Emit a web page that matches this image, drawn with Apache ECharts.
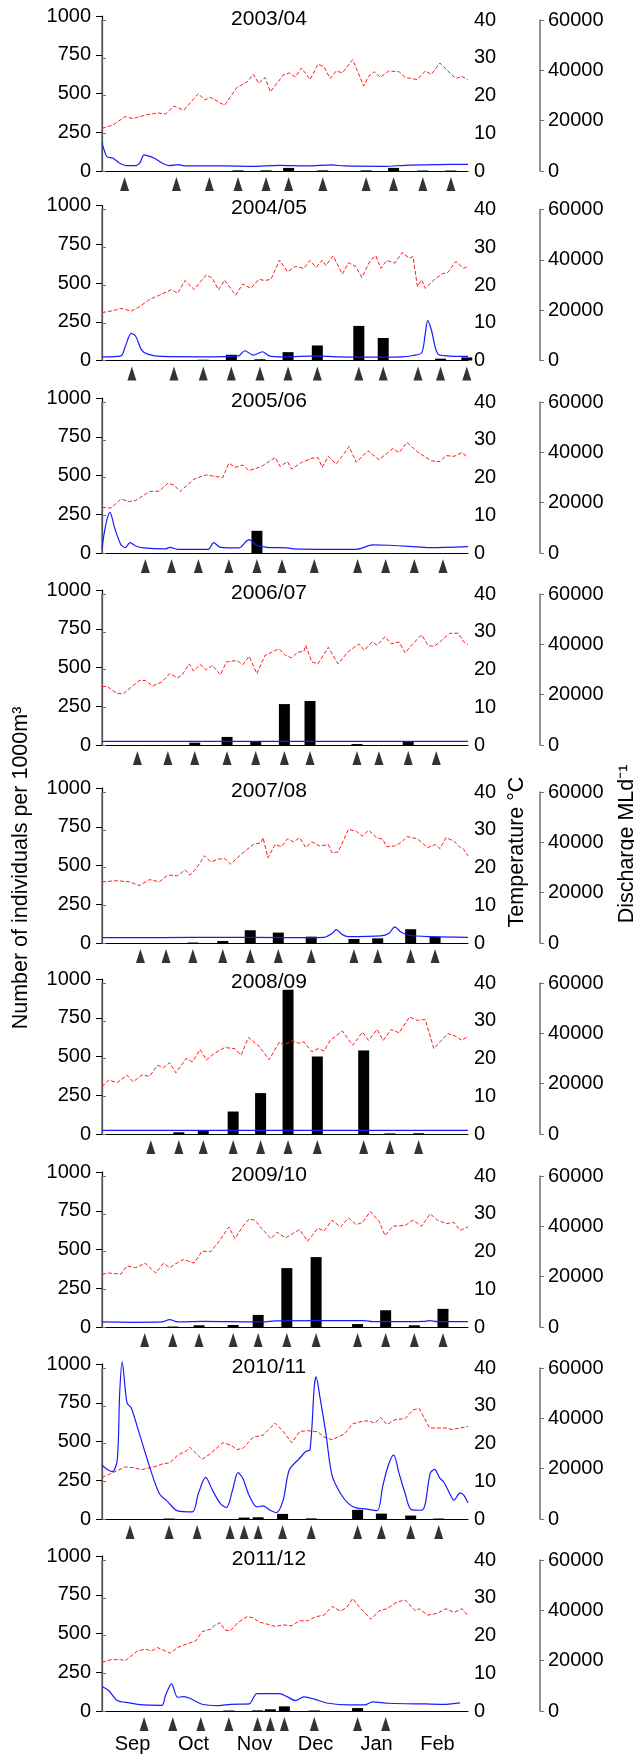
<!DOCTYPE html>
<html>
<head>
<meta charset="utf-8">
<script src="https://cdn.jsdelivr.net/npm/echarts@6/dist/echarts.min.js"></script>
<style>
  html, body { margin: 0; padding: 0; background: #fff; }
  #chart { width: 634px; height: 1756px; }
</style>
</head>
<body>
<div id="chart"></div>
<script>
// month categories on the x axis (values below are months after 1 Sep)
const months = ["Sep", "Oct", "Nov", "Dec", "Jan", "Feb"];
const leftTicks = [0, 250, 500, 750, 1000];

// sampling dates (triangles) and catches (bars, individuals per 1000 m3)
const samples0304 = [0.37, 1.22, 1.76, 2.23, 2.69, 3.06, 3.62, 4.33, 4.78, 5.26, 5.72];
const catch0304 = [0, 0, 0, 4, 4, 20, 4, 4, 20, 3, 3];
const samples0405 = [0.49, 1.18, 1.66, 2.12, 2.59, 3.05, 3.53, 4.21, 4.61, 5.18, 5.55, 5.98];
const catch0405 = [0, 0, 5, 37, 8, 54, 97, 223, 145, 0, 12, 20];
const samples0506 = [0.71, 1.14, 1.58, 2.08, 2.54, 2.95, 3.48, 4.19, 4.65, 5.12, 5.59];
const catch0506 = [0, 0, 0, 0, 143, 0, 0, 0, 0, 0, 0];
const samples0607 = [0.58, 1.08, 1.52, 2.05, 2.52, 2.99, 3.41, 4.18, 4.54, 5.02, 5.48];
const catch0607 = [0, 0, 15, 52, 26, 264, 284, 6, 0, 24, 0];
const samples0708 = [0.63, 1.05, 1.49, 1.98, 2.43, 2.89, 3.43, 4.13, 4.52, 5.06, 5.46];
const catch0708 = [0, 0, 3, 13, 82, 67, 41, 26, 30, 89, 41];
const samples0809 = [0.80, 1.26, 1.66, 2.15, 2.60, 3.05, 3.53, 4.29, 4.72, 5.19];
const catch0809 = [0, 11, 24, 145, 264, 931, 500, 539, 4, 5];
const samples0910 = [0.70, 1.16, 1.59, 2.15, 2.56, 3.03, 3.51, 4.19, 4.65, 5.12, 5.59];
const catch0910 = [0, 3, 11, 13, 78, 380, 451, 19, 108, 11, 117];
const samples1011 = [0.46, 1.10, 1.56, 2.10, 2.33, 2.56, 2.96, 3.43, 4.19, 4.58, 5.06, 5.52];
const catch1011 = [0, 3, 0, 0, 9, 11, 33, 4, 59, 35, 22, 3];
const samples1112 = [0.69, 1.16, 1.62, 2.08, 2.55, 2.76, 2.99, 3.48, 4.19, 4.65];
const catch1112 = [0, 0, 0, 3, 4, 11, 30, 3, 19, 0];

// water temperature, deg C  [month, value]
const temp0304 = [[0,11.3],[0.18,12.2],[0.38,14.4],[0.51,13.9],[0.71,14.8],[0.91,15.4],[1.04,15.1],[1.18,17.2],[1.34,16.1],[1.58,20.5],[1.68,18.8],[1.78,19.5],[2.01,17.4],[2.21,22.1],[2.38,23.6],[2.48,25.6],[2.57,23.2],[2.67,24.8],[2.76,21.0],[2.97,25.4],[3.07,26.0],[3.17,24.9],[3.27,27.3],[3.41,24.2],[3.54,28.3],[3.64,27.6],[3.74,24.5],[3.84,26.5],[3.94,26.0],[4.11,29.5],[4.29,22.5],[4.37,25.1],[4.47,26.3],[4.56,24.8],[4.70,26.5],[4.87,26.3],[4.97,24.8],[5.17,24.2],[5.30,26.5],[5.40,25.6],[5.54,28.6],[5.67,26.5],[5.80,24.5],[5.90,25.1],[6.00,24.1]];
const temp0405 = [[0,12.7],[0.18,13.2],[0.31,13.8],[0.48,13.1],[0.61,14.2],[0.78,16.2],[0.94,17.3],[1.14,18.8],[1.24,17.8],[1.36,21.2],[1.51,18.8],[1.71,22.7],[1.81,21.8],[1.91,18.7],[2.01,21.3],[2.19,17.3],[2.31,20.3],[2.44,19.1],[2.57,21.5],[2.67,21.2],[2.77,21.5],[2.91,26.6],[3.04,23.5],[3.17,24.9],[3.31,24.4],[3.41,26.5],[3.51,24.7],[3.61,26.6],[3.67,25.2],[3.79,27.7],[3.94,22.9],[4.04,25.9],[4.16,24.9],[4.26,22.0],[4.40,26.6],[4.49,27.7],[4.57,24.4],[4.67,26.5],[4.80,25.8],[4.92,28.6],[5.04,27.1],[5.10,27.5],[5.17,19.6],[5.24,21.3],[5.30,19.1],[5.44,21.3],[5.57,22.9],[5.67,23.3],[5.80,26.2],[5.93,24.4],[6.00,25.0]];
const temp0506 = [[0,12.1],[0.15,11.9],[0.31,14.3],[0.45,13.6],[0.55,13.9],[0.78,16.3],[0.94,16.4],[1.08,18.5],[1.18,18.0],[1.28,16.3],[1.51,19.6],[1.71,20.7],[1.84,20.3],[1.98,20.0],[2.08,23.8],[2.18,22.7],[2.31,23.3],[2.41,21.8],[2.61,22.9],[2.84,25.3],[2.92,22.9],[3.04,24.2],[3.11,22.2],[3.27,24.0],[3.44,25.1],[3.54,25.3],[3.61,22.7],[3.71,25.6],[3.84,23.6],[3.97,26.4],[4.05,28.2],[4.17,24.0],[4.36,27.1],[4.54,24.7],[4.77,27.7],[4.87,26.6],[5.00,29.3],[5.17,26.8],[5.40,24.4],[5.54,24.2],[5.64,25.8],[5.77,25.6],[5.90,26.6],[6.00,25.3]];
const temp0607 = [[0,15.4],[0.08,15.6],[0.25,13.6],[0.35,13.6],[0.61,17.1],[0.71,17.1],[0.83,15.6],[0.98,16.7],[1.11,18.9],[1.24,17.8],[1.31,18.5],[1.43,21.5],[1.50,19.6],[1.61,21.3],[1.71,19.9],[1.81,21.1],[1.94,18.6],[2.04,22.0],[2.21,22.4],[2.31,21.3],[2.41,23.5],[2.54,18.9],[2.67,23.7],[2.90,25.5],[3.01,23.7],[3.11,23.1],[3.21,24.6],[3.31,24.8],[3.34,26.4],[3.44,22.0],[3.54,21.5],[3.71,25.9],[3.87,21.5],[4.03,24.6],[4.21,26.8],[4.30,25.1],[4.43,27.3],[4.51,26.4],[4.64,28.7],[4.74,26.8],[4.87,27.3],[4.97,24.4],[5.07,26.4],[5.24,29.2],[5.34,26.4],[5.44,26.1],[5.57,27.7],[5.70,29.6],[5.84,29.6],[5.93,27.3],[6.00,26.6]];
const temp0708 = [[0,16.2],[0.25,16.5],[0.45,16.2],[0.61,15.2],[0.78,16.8],[0.94,16.2],[1.08,18.0],[1.24,17.8],[1.36,19.4],[1.44,18.0],[1.54,19.6],[1.68,23.1],[1.78,21.5],[1.91,22.2],[2.01,22.4],[2.11,20.9],[2.31,23.9],[2.48,26.1],[2.61,26.6],[2.64,27.9],[2.72,22.6],[2.84,26.1],[2.94,25.5],[3.04,27.6],[3.14,26.8],[3.24,27.9],[3.34,25.3],[3.44,26.8],[3.57,25.7],[3.71,26.1],[3.77,23.9],[3.87,24.1],[4.04,30.1],[4.17,29.6],[4.27,28.3],[4.37,29.9],[4.50,27.9],[4.60,27.5],[4.67,25.5],[4.80,25.7],[4.90,26.6],[5.00,28.2],[5.17,27.6],[5.34,25.3],[5.47,26.1],[5.54,25.0],[5.64,27.9],[5.77,27.0],[5.87,25.3],[5.93,24.8],[6.00,23.1]];
const temp0809 = [[0,12.5],[0.11,14.3],[0.25,13.6],[0.41,15.6],[0.51,13.8],[0.65,15.6],[0.78,15.3],[0.91,18.2],[1.01,17.6],[1.11,18.9],[1.21,16.2],[1.38,20.0],[1.48,19.1],[1.61,22.4],[1.71,19.6],[1.84,21.3],[2.01,22.9],[2.18,22.6],[2.28,20.9],[2.40,25.6],[2.57,23.3],[2.74,19.7],[2.91,24.4],[2.97,23.5],[3.11,24.7],[3.24,24.0],[3.31,24.4],[3.44,21.8],[3.54,22.6],[3.64,22.0],[3.74,24.8],[3.94,27.3],[4.11,23.5],[4.27,27.0],[4.37,24.8],[4.51,27.7],[4.61,24.8],[4.74,27.7],[4.87,26.8],[5.04,31.0],[5.17,30.1],[5.30,30.3],[5.44,22.6],[5.54,24.4],[5.67,26.6],[5.80,25.9],[5.90,24.8],[6.00,25.9]];
const temp0910 = [[0,14.0],[0.11,14.3],[0.31,14.0],[0.41,16.2],[0.55,15.7],[0.71,16.9],[0.88,14.3],[1.01,16.9],[1.11,15.7],[1.19,16.6],[1.34,17.9],[1.51,16.9],[1.64,20.1],[1.78,19.9],[1.91,22.5],[2.08,26.5],[2.18,23.4],[2.31,26.7],[2.41,28.6],[2.51,28.3],[2.61,26.2],[2.77,23.4],[2.87,25.1],[3.01,23.6],[3.14,24.9],[3.24,25.8],[3.37,22.7],[3.54,26.2],[3.64,25.4],[3.77,28.3],[3.91,26.5],[4.04,28.9],[4.17,27.1],[4.27,27.7],[4.40,30.6],[4.54,28.0],[4.64,24.2],[4.77,26.7],[4.97,26.9],[5.10,28.3],[5.24,26.7],[5.38,30.0],[5.50,28.3],[5.64,27.4],[5.77,27.7],[5.87,25.6],[6.00,26.5]];
const temp1011 = [[0,11.0],[0.18,12.3],[0.38,13.8],[0.51,13.6],[0.65,13.1],[0.85,13.8],[0.98,14.5],[1.11,14.9],[1.24,16.9],[1.38,18.0],[1.44,19.0],[1.64,15.8],[1.78,17.3],[1.98,20.2],[2.11,19.6],[2.21,18.4],[2.31,18.7],[2.48,21.7],[2.64,22.2],[2.84,25.4],[2.97,23.2],[3.11,20.2],[3.24,23.2],[3.37,23.4],[3.54,23.1],[3.64,21.7],[3.77,21.0],[3.97,22.5],[4.11,25.2],[4.27,25.9],[4.37,26.0],[4.47,25.4],[4.57,26.9],[4.67,25.0],[4.80,26.3],[4.97,26.6],[5.10,28.9],[5.20,29.3],[5.37,24.1],[5.64,24.1],[5.74,23.7],[5.87,24.1],[6.00,24.5]];
const temp1112 = [[0,12.9],[0.15,13.6],[0.31,13.6],[0.38,13.3],[0.58,15.9],[0.71,16.4],[0.81,15.9],[0.91,16.8],[1.04,15.9],[1.12,15.3],[1.24,16.8],[1.38,17.7],[1.54,18.6],[1.64,21.0],[1.78,21.7],[1.84,22.6],[1.94,23.4],[2.01,21.5],[2.10,21.2],[2.24,23.6],[2.38,25.0],[2.48,24.7],[2.57,23.6],[2.71,23.0],[2.84,22.4],[2.97,22.8],[3.11,22.6],[3.24,23.9],[3.37,23.9],[3.51,25.0],[3.64,25.4],[3.77,27.7],[3.91,26.5],[4.01,27.4],[4.11,29.8],[4.21,27.7],[4.41,24.3],[4.54,26.5],[4.67,27.1],[4.84,28.9],[4.97,29.4],[5.14,26.5],[5.20,27.1],[5.34,25.4],[5.50,25.9],[5.64,27.1],[5.77,26.1],[5.90,27.1],[6.00,25.2]];

// river discharge, ML per day  [month, value]
const flow0304 = [[0,11070],[0.04,8000],[0.08,5730],[0.18,5070],[0.29,3070],[0.40,2130],[0.56,2130],[0.62,3200],[0.69,6400],[0.74,6130],[0.86,5070],[0.99,3070],[1.10,2130],[1.25,2530],[1.38,2000],[2.00,2000],[2.44,1870],[2.91,2270],[3.37,2000],[3.77,2400],[3.97,2000],[4.64,1870],[4.97,2270],[5.50,2530],[6.00,2670]];
const flow0405 = [[0,1470],[0.31,1870],[0.38,5470],[0.48,10800],[0.55,9730],[0.65,4130],[0.75,2530],[0.98,1600],[1.64,1470],[2.24,1870],[2.34,3870],[2.48,2130],[2.63,3470],[2.74,1870],[2.97,1470],[3.51,1870],[3.84,1470],[4.30,1330],[4.90,1470],[5.10,2000],[5.24,3070],[5.30,10800],[5.34,15870],[5.40,12130],[5.50,2800],[5.64,1870],[6.00,1600]];
const flow0506 = [[0,1730],[0.06,11070],[0.13,16130],[0.21,9730],[0.31,3330],[0.38,2130],[0.46,4130],[0.55,2800],[0.68,2000],[1.04,1600],[1.11,2270],[1.24,1470],[1.74,1470],[1.83,4130],[1.94,2270],[2.24,2000],[2.41,5330],[2.54,3070],[2.71,2270],[3.04,2000],[3.14,1600],[3.57,1470],[4.17,1470],[4.44,3200],[4.70,3070],[5.04,2670],[5.37,2130],[6.00,2530]];
const flow0607 = [[0,1470],[6.00,1470]];
const flow0708 = [[0,2130],[0.98,2130],[1.98,2270],[2.97,2130],[3.64,2270],[3.77,3730],[3.84,5330],[3.94,3330],[4.04,2530],[4.57,2800],[4.70,3730],[4.80,6400],[4.90,4400],[5.04,3070],[5.37,2530],[6.00,2270]];
const flow0809 = [[0,1470],[6.00,1470]];
const flow0910 = [[0,2000],[0.51,1870],[0.98,2000],[1.11,2930],[1.24,2000],[1.64,2270],[2.64,2000],[2.84,2400],[4.30,2530],[4.44,2130],[5.30,2270],[5.37,2530],[5.50,2130],[6.00,2130]];
const flow1011 = [[0,21470],[0.08,19730],[0.17,18800],[0.25,23460],[0.29,50130],[0.33,62400],[0.41,46130],[0.48,44130],[0.61,34130],[0.78,20800],[0.94,10130],[1.08,6800],[1.24,3200],[1.48,2800],[1.58,10130],[1.70,16530],[1.81,11470],[1.94,6130],[2.04,4530],[2.14,11470],[2.23,18400],[2.31,16130],[2.41,9470],[2.54,4800],[2.64,5200],[2.74,3730],[2.86,2530],[2.97,7470],[3.07,19470],[3.24,24130],[3.34,26800],[3.41,27470],[3.48,52800],[3.51,56530],[3.57,48800],[3.67,34130],[3.77,17470],[3.91,10130],[4.04,6130],[4.17,4400],[4.31,4000],[4.51,3330],[4.60,12800],[4.69,21070],[4.78,25470],[4.87,18130],[4.97,10130],[5.07,3730],[5.24,3470],[5.30,6130],[5.38,18130],[5.45,19730],[5.54,16130],[5.60,14800],[5.70,10130],[5.77,7470],[5.87,10400],[5.93,9470],[6.00,6400]];
const flow1112 = [[0,9730],[0.11,8130],[0.25,4130],[0.45,3200],[0.61,2530],[0.98,2270],[1.04,6130],[1.14,10800],[1.24,5470],[1.34,5730],[1.44,5070],[1.64,2670],[1.91,2130],[2.11,2670],[2.41,2800],[2.54,6930],[2.91,6930],[3.04,5600],[3.17,4130],[3.31,5600],[3.47,4800],[3.71,3070],[4.04,2400],[4.30,2400],[4.44,3600],[4.70,3070],[5.30,2800],[5.64,2670],[5.87,3200]];

const panels = [
  { season: "2003/04", samples: samples0304, catches: catch0304, temp: temp0304, flow: flow0304 },
  { season: "2004/05", samples: samples0405, catches: catch0405, temp: temp0405, flow: flow0405 },
  { season: "2005/06", samples: samples0506, catches: catch0506, temp: temp0506, flow: flow0506 },
  { season: "2006/07", samples: samples0607, catches: catch0607, temp: temp0607, flow: flow0607 },
  { season: "2007/08", samples: samples0708, catches: catch0708, temp: temp0708, flow: flow0708 },
  { season: "2008/09", samples: samples0809, catches: catch0809, temp: temp0809, flow: flow0809 },
  { season: "2009/10", samples: samples0910, catches: catch0910, temp: temp0910, flow: flow0910 },
  { season: "2010/11", samples: samples1011, catches: catch1011, temp: temp1011, flow: flow1011 },
  { season: "2011/12", samples: samples1112, catches: catch1112, temp: temp1112, flow: flow1112 }
];

// layout: pixel y of the zero line of each panel
const zeroY = [171, 360.5, 553, 745, 943, 1134, 1327, 1519, 1711];
const plotLeft = 102;
const plotWidth = 366;
const font = "Liberation Sans, Arial, sans-serif";

const option = {
  animation: false,
  textStyle: { fontFamily: font, color: "#000" },
  grid: [],
  xAxis: [],
  yAxis: [],
  series: [],
  graphic: []
};

panels.forEach((p, i) => {
  const z = zeroY[i];
  const g = option.grid.length;
  const xa = option.xAxis.length;
  const ya = option.yAxis.length;
  const last = i === panels.length - 1;

  // bars grid, lines grid, triangle strip
  option.grid.push({ left: plotLeft, width: plotWidth, top: z - 155, height: 155 });
  option.grid.push({ left: plotLeft, width: plotWidth, top: z - 151, height: 151 });
  option.grid.push({ left: plotLeft, width: plotWidth, top: z + 7, height: 12 });

  option.xAxis.push({
    type: "category", gridIndex: g, data: months, position: "bottom",
    axisLine: { lineStyle: { color: "#000", width: 1.2 } },
    axisTick: { length: 4, lineStyle: { color: "#000" } },
    axisLabel: { show: last, fontSize: 20, color: "#000", margin: 23, fontFamily: font }
  });
  option.xAxis.push({ type: "value", gridIndex: g, min: 0, max: 6, show: false });
  option.xAxis.push({ type: "value", gridIndex: g + 1, min: 0, max: 6, show: false });
  option.xAxis.push({ type: "value", gridIndex: g + 2, min: 0, max: 6, show: false });

  option.yAxis.push({
    type: "value", gridIndex: g, position: "left",
    min: leftTicks[0], max: leftTicks[leftTicks.length - 1], interval: 250,
    splitLine: { show: false },
    axisLine: { show: true, lineStyle: { color: "#000", width: 1.2 } },
    axisTick: { show: true, length: 6, lineStyle: { color: "#000" } },
    axisLabel: { fontSize: 20, color: "#000", margin: 11, fontFamily: font, formatter: v => String(v) }
  });
  option.yAxis.push({
    type: "value", gridIndex: g + 1, position: "right",
    min: 0, max: 40, interval: 10,
    splitLine: { show: false },
    axisLine: { show: true, lineStyle: { color: "#707070", width: 1.5 } },
    axisTick: { show: true, length: 4, lineStyle: { color: "#707070" } },
    axisLabel: { fontSize: 20, color: "#000", margin: 6, fontFamily: font }
  });
  option.yAxis.push({
    type: "value", gridIndex: g + 1, position: "right", offset: 72,
    min: 0, max: 60000, interval: 20000,
    splitLine: { show: false },
    axisLine: { show: true, lineStyle: { color: "#707070", width: 1.5 } },
    axisTick: { show: true, length: 4, lineStyle: { color: "#707070" } },
    axisLabel: { fontSize: 20, color: "#000", margin: 8, fontFamily: font, formatter: v => String(v) }
  });
  option.yAxis.push({ type: "value", gridIndex: g + 2, min: -1, max: 1, show: false });

  option.series.push({
    type: "bar", xAxisIndex: xa + 1, yAxisIndex: ya, barWidth: 11, z: 2,
    itemStyle: { color: "#000" },
    data: p.samples.map((m, k) => [m, p.catches[k]])
  });
  option.series.push({
    type: "line", xAxisIndex: xa + 2, yAxisIndex: ya + 1, showSymbol: false, z: 3,
    lineStyle: { color: "#ff1a1a", width: 1, type: [4, 2] },
    data: p.temp
  });
  option.series.push({
    type: "line", xAxisIndex: xa + 2, yAxisIndex: ya + 2, showSymbol: false, z: 4,
    smooth: 0.3, clip: false,
    lineStyle: { color: "#1a1aff", width: 1.2 },
    data: p.flow
  });
  option.series.push({
    type: "scatter", xAxisIndex: xa + 3, yAxisIndex: ya + 3, clip: false,
    symbol: "triangle", symbolSize: [9, 14],
    itemStyle: { color: "#000" },
    data: p.samples.map(m => [m, 0])
  });

  option.graphic.push({
    type: "text", x: 269, y: z - 152,
    style: { text: p.season, fontSize: 21, fontFamily: font, fill: "#000",
      align: "center", verticalAlign: "middle", textAlign: "center", textVerticalAlign: "middle" }
  });
});

// axis titles spanning the whole figure
[["Number of individuals per 1000m\u00b3", 21, 868],
 ["Temperature \u00b0C", 517, 852],
 ["Discharge MLd\u207b\u00b9", 627, 844]].forEach(([t, x, y]) => {
  option.graphic.push({
    type: "text", x: x, y: y, rotation: Math.PI / 2,
    style: { text: t, fontSize: 21.5, fontFamily: font, fill: "#000",
      align: "center", verticalAlign: "middle", textAlign: "center", textVerticalAlign: "middle" }
  });
});

const chart = echarts.init(document.getElementById("chart"), null, { renderer: "canvas" });
chart.setOption(option);
</script>
</body>
</html>
